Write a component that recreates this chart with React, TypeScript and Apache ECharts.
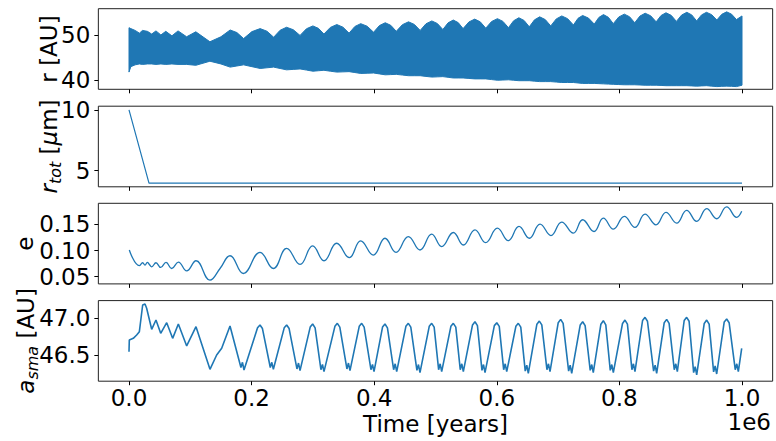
import React, { useEffect, useRef } from "react";
import * as echarts from "echarts";

// time in units of 1e6 years
const TIME_R = [0.0, 0.003, 0.010, 0.017, 0.022, 0.030, 0.037, 0.044, 0.052, 0.060, 0.070, 0.080, 0.094, 0.109, 0.132, 0.150, 0.165, 0.176, 0.187, 0.2005, 0.214, 0.225, 0.236, 0.2465, 0.257, 0.268, 0.279, 0.2895, 0.300, 0.309, 0.318, 0.3285, 0.339, 0.349, 0.359, 0.3685, 0.378, 0.3885, 0.399, 0.4085, 0.418, 0.427, 0.436, 0.446, 0.456, 0.4655, 0.475, 0.4845, 0.494, 0.503, 0.512, 0.5205, 0.529, 0.537, 0.545, 0.5545, 0.564, 0.573, 0.582, 0.5915, 0.601, 0.610, 0.619, 0.6275, 0.636, 0.6445, 0.653, 0.6615, 0.670, 0.679, 0.688, 0.697, 0.706, 0.7155, 0.725, 0.7325, 0.740, 0.7495, 0.759, 0.7665, 0.774, 0.782, 0.790, 0.799, 0.808, 0.8165, 0.825, 0.8335, 0.842, 0.851, 0.860, 0.868, 0.876, 0.8845, 0.893, 0.9015, 0.910, 0.918, 0.926, 0.934, 0.942, 0.9505, 0.959, 0.967, 0.975, 0.983, 0.991, 1.000];
const R_MAX = [51.6, 51.4, 51.0, 50.4, 51.0, 50.8, 50.2, 50.9, 50.0, 50.8, 49.8, 50.9, 49.6, 50.7, 48.5, 49.6, 51.1, 50.53, 49.2, 50.74, 51.4, 50.83, 49.5, 51.04, 51.7, 51.16, 49.9, 51.37, 52.0, 51.46, 50.2, 51.67, 52.3, 51.73, 50.4, 51.87, 52.5, 51.93, 50.6, 52.07, 52.7, 52.13, 50.8, 52.27, 52.9, 52.33, 51.0, 52.47, 53.1, 52.53, 51.2, 52.67, 53.3, 52.73, 51.4, 52.87, 53.5, 52.9, 51.5, 52.97, 53.6, 53.0, 51.6, 53.14, 53.8, 53.2, 51.8, 53.34, 54.0, 53.4, 52.0, 53.54, 54.2, 53.6, 52.2, 53.67, 54.3, 53.73, 52.4, 53.87, 54.5, 53.9, 52.5, 53.97, 54.6, 54.03, 52.7, 54.17, 54.8, 54.23, 52.9, 54.3, 54.9, 54.33, 53.0, 54.4, 55.0, 54.43, 53.1, 54.43, 55.0, 54.49, 53.3, 54.56, 55.1, 54.59, 53.4, 54.2];
const R_MIN = [41.8, 43.0, 43.4, 43.6, 43.5, 43.6, 43.6, 43.5, 43.6, 43.5, 43.6, 43.5, 43.5, 43.3, 44.2, 43.6, 42.9, 43.15, 43.4, 43.0, 42.6, 42.75, 42.9, 42.6, 42.3, 42.4, 42.5, 42.25, 42.0, 42.1, 42.2, 42.0, 41.8, 41.85, 41.9, 41.7, 41.5, 41.55, 41.6, 41.4, 41.2, 41.25, 41.3, 41.15, 41.0, 41.0, 41.0, 40.85, 40.7, 40.75, 40.8, 40.65, 40.5, 40.5, 40.5, 40.4, 40.3, 40.3, 40.3, 40.15, 40.0, 40.05, 40.1, 40.0, 39.9, 39.9, 39.9, 39.8, 39.7, 39.7, 39.7, 39.6, 39.5, 39.5, 39.5, 39.4, 39.3, 39.3, 39.3, 39.25, 39.2, 39.15, 39.1, 39.05, 39.0, 39.0, 39.0, 38.95, 38.9, 38.9, 38.9, 38.85, 38.8, 38.8, 38.8, 38.8, 38.8, 38.75, 38.7, 38.75, 38.8, 38.7, 38.6, 38.65, 38.7, 38.65, 38.6, 38.9];

const TIME_RTOT = [0.0, 0.0326, 1.0];
const R_TOT = [10.0, 3.97, 3.97];

const TIME_E = [0.0005, 0.0169, 0.0223, 0.0261, 0.0299, 0.0332, 0.0370, 0.0440, 0.0517, 0.0604, 0.0696, 0.0805, 0.0941, 0.1093, 0.1321, 0.1485, 0.1648, 0.1865, 0.2137, 0.2355, 0.2572, 0.2790, 0.2996, 0.3181, 0.3388, 0.3594, 0.3779, 0.3986, 0.4176, 0.4356, 0.4557, 0.4747, 0.4938, 0.5101, 0.5291, 0.5454, 0.5644, 0.5818, 0.6009, 0.6188, 0.6362, 0.6531, 0.6705, 0.6884, 0.7058, 0.7248, 0.7401, 0.7586, 0.7738, 0.7901, 0.8080, 0.8254, 0.8418, 0.8597, 0.8760, 0.8934, 0.9097, 0.9261, 0.9424, 0.9587, 0.9750, 0.9913, 0.9995];
const ECC = [0.101, 0.071, 0.0765, 0.072, 0.0771, 0.0733, 0.0688, 0.0765, 0.0675, 0.0771, 0.0655, 0.0778, 0.0610, 0.0804, 0.0432, 0.0655, 0.0900, 0.0559, 0.0965, 0.0655, 0.1042, 0.0733, 0.1087, 0.0804, 0.1139, 0.0862, 0.1184, 0.0913, 0.1235, 0.0965, 0.1268, 0.1010, 0.1313, 0.1074, 0.1345, 0.1106, 0.1396, 0.1152, 0.1429, 0.1190, 0.1461, 0.1235, 0.1506, 0.1287, 0.1545, 0.1332, 0.1590, 0.1364, 0.1622, 0.1409, 0.1654, 0.1442, 0.1699, 0.1493, 0.1731, 0.1525, 0.1770, 0.1558, 0.1802, 0.1609, 0.1835, 0.1635, 0.1751];

const TIME_A = [0.0000, 0.0005, 0.0070, 0.0125, 0.0169, 0.0223, 0.0261, 0.0288, 0.0370, 0.0440, 0.0517, 0.0615, 0.0712, 0.0805, 0.0941, 0.1093, 0.1321, 0.1430, 0.1512, 0.1648,
  0.1826, 0.1851, 0.1876, 0.2097, 0.2137, 0.2177,
  0.2305, 0.2330, 0.2355, 0.2532, 0.2572, 0.2612,
  0.2740, 0.2765, 0.2790, 0.2956, 0.2996, 0.3036,
  0.3131, 0.3156, 0.3181, 0.3359, 0.3399, 0.3439,
  0.3555, 0.3580, 0.3605, 0.3756, 0.3796, 0.3836,
  0.3947, 0.3972, 0.3997, 0.4136, 0.4176, 0.4216,
  0.4317, 0.4342, 0.4367, 0.4517, 0.4557, 0.4597,
  0.4697, 0.4722, 0.4747, 0.4898, 0.4938, 0.4978,
  0.5051, 0.5076, 0.5101, 0.5251, 0.5291, 0.5331,
  0.5404, 0.5429, 0.5454, 0.5604, 0.5644, 0.5684,
  0.5758, 0.5783, 0.5808, 0.5960, 0.6000, 0.6040,
  0.6112, 0.6137, 0.6162, 0.6311, 0.6351, 0.6391,
  0.6464, 0.6489, 0.6514, 0.6654, 0.6694, 0.6734,
  0.6818, 0.6843, 0.6868, 0.7002, 0.7042, 0.7082,
  0.7172, 0.7197, 0.7222, 0.7361, 0.7401, 0.7441,
  0.7524, 0.7549, 0.7574, 0.7698, 0.7738, 0.7778,
  0.7851, 0.7876, 0.7901, 0.8051, 0.8091, 0.8131,
  0.8204, 0.8229, 0.8254, 0.8378, 0.8418, 0.8458,
  0.8558, 0.8583, 0.8608, 0.8731, 0.8771, 0.8811,
  0.8895, 0.8920, 0.8945, 0.9057, 0.9097, 0.9137,
  0.9211, 0.9236, 0.9261, 0.9384, 0.9424, 0.9464,
  0.9537, 0.9562, 0.9587, 0.9710, 0.9750, 0.9790,
  0.9890, 0.9915, 0.9940, 0.9995];
const ASMA = [46.545, 46.704, 46.727, 46.772, 46.818, 47.181, 47.195, 47.136, 46.850, 46.977, 46.795, 46.940, 46.727, 46.922, 46.623, 46.886, 46.305, 46.500, 46.591, 46.895,
  46.33, 46.40, 46.296, 46.87, 46.909, 46.86,
  46.33, 46.40, 46.305, 46.87, 46.909, 46.86,
  46.31, 46.39, 46.287, 46.88, 46.922, 46.87,
  46.30, 46.37, 46.273, 46.89, 46.931, 46.88,
  46.31, 46.39, 46.287, 46.89, 46.931, 46.88,
  46.30, 46.37, 46.273, 46.88, 46.922, 46.87,
  46.30, 46.38, 46.273, 46.89, 46.931, 46.88,
  46.29, 46.37, 46.259, 46.89, 46.931, 46.88,
  46.30, 46.38, 46.273, 46.89, 46.931, 46.88,
  46.30, 46.38, 46.273, 46.91, 46.953, 46.90,
  46.29, 46.37, 46.259, 46.90, 46.940, 46.89,
  46.30, 46.38, 46.273, 46.89, 46.931, 46.88,
  46.28, 46.36, 46.251, 46.92, 46.962, 46.91,
  46.30, 46.38, 46.273, 46.94, 46.985, 46.93,
  46.28, 46.36, 46.251, 46.91, 46.953, 46.90,
  46.29, 46.37, 46.259, 46.92, 46.967, 46.91,
  46.29, 46.37, 46.259, 46.93, 46.976, 46.92,
  46.30, 46.38, 46.273, 46.97, 47.013, 46.96,
  46.28, 46.36, 46.251, 46.94, 46.985, 46.93,
  46.30, 46.38, 46.273, 46.97, 47.013, 46.96,
  46.26, 46.34, 46.228, 46.93, 46.976, 46.92,
  46.27, 46.35, 46.241, 46.95, 46.990, 46.94,
  46.30, 46.38, 46.273, 46.591];

const X_TICKS = [0, 0.2, 0.4, 0.6, 0.8, 1.0];
const Y_TICKS = [[40, 50], [5, 10], [0.05, 0.1, 0.15], [46.5, 47.0]];
const Y_DECIMALS = [0, 0, 2, 1];
const Y_RANGES = [[38.0, 55.8], [3.67, 10.3], [0.036, 0.1905], [46.143, 47.241]];
const Y_NAMES = ["r [AU]", "{i|r}{s|tot} [{i|μ}m]", "e", "{i|a}{s|sma} [AU]"];
const X_NAME = "Time [years]";
const X_OFFSET = "1e6";

const FONT = "DejaVu Sans";
const BLUE = "#1f77b4";
const FS = 23;

const zip = (xs: number[], ys: number[]) => xs.map((x, i) => [x, ys[i]]);

export default function App() {
  const ref = useRef<HTMLDivElement>(null);
  useEffect(() => {
    if (!ref.current) return;
    const chart = echarts.init(ref.current, null, { renderer: "svg" });
    const tops = [8.7, 106.2, 203.3, 300.6];
    const H = 80.6;
    const grid = tops.map((t) => ({
      left: 98.35,
      right: 3.35,
      top: t,
      height: H,
      show: true,
      borderColor: "#222",
      borderWidth: 1,
      backgroundColor: "transparent",
    }));
    const xAxis = tops.map((_, i) => ({
      type: "value",
      gridIndex: i,
      min: -0.05,
      max: 1.05,
      axisLine: { show: false, onZero: false },
      splitLine: { show: false },
      axisTick: { show: true, length: 4, lineStyle: { color: "#000", width: 1 }, customValues: X_TICKS },
      axisLabel: {
        show: i === 3,
        customValues: X_TICKS,
        formatter: (v: number) => v.toFixed(1),
        fontFamily: FONT,
        fontSize: FS,
        lineHeight: 20,
        color: "#000",
        margin: 7,
      },
    }));
    const yAxis = tops.map((_, i) => ({
      type: "value",
      gridIndex: i,
      min: Y_RANGES[i][0],
      max: Y_RANGES[i][1],
      axisLine: { show: false, onZero: false },
      splitLine: { show: false },
      axisTick: { show: true, length: 4, lineStyle: { color: "#000", width: 1 }, customValues: Y_TICKS[i] },
      axisLabel: {
        customValues: Y_TICKS[i],
        formatter: (v: number) => v.toFixed(Y_DECIMALS[i]),
        fontFamily: FONT,
        fontSize: FS,
        color: "#000",
        margin: 8,
      },
    }));
    const nameX = [49, 49, 24.5, 26];
    const rich = {
      i: { fontFamily: FONT, fontSize: FS, fontStyle: "italic", fill: "#000", lineHeight: 28 },
      s: { fontFamily: FONT, fontSize: 16, fontStyle: "italic", fill: "#000", lineHeight: 16, verticalAlign: "bottom" },
    };
    const yNames = Y_NAMES.map((txt, i) => ({
      type: "text",
      x: nameX[i],
      y: tops[i] + H / 2,
      rotation: Math.PI / 2,
      silent: true,
      style: {
        text: txt,
        fontFamily: FONT,
        fontSize: FS,
        fill: "#000",
        lineHeight: 28,
        align: "center",
        verticalAlign: "middle",
        rich,
      },
    }));
    const base = { type: "line", symbol: "none", silent: true };
    const option = {
      animation: false,
      grid,
      xAxis,
      yAxis,
      series: [
        {
          type: "custom",
          xAxisIndex: 0,
          yAxisIndex: 0,
          silent: true,
          data: [[TIME_R[0], R_MIN[0]]],
          renderItem: (_p: any, api: any) => {
            const upper = TIME_R.map((t, i) => api.coord([t, R_MAX[i]]));
            const lower = TIME_R.map((t, i) => api.coord([t, R_MIN[i]])).reverse();
            return {
              type: "polygon",
              shape: { points: upper.concat(lower) },
              style: { fill: BLUE, stroke: BLUE, lineWidth: 1 },
            };
          },
        },
        {
          ...base,
          xAxisIndex: 1,
          yAxisIndex: 1,
          data: zip(TIME_RTOT, R_TOT),
          lineStyle: { color: BLUE, width: 1.2 },
        },
        {
          ...base,
          xAxisIndex: 2,
          yAxisIndex: 2,
          data: zip(TIME_E, ECC),
          smooth: 0.45,
          lineStyle: { color: BLUE, width: 1.3 },
        },
        {
          ...base,
          xAxisIndex: 3,
          yAxisIndex: 3,
          data: zip(TIME_A, ASMA),
          lineStyle: { color: BLUE, width: 1.6 },
        },
      ],
      graphic: [
        ...yNames,
        {
          type: "text",
          x: 435.5,
          y: 424,
          silent: true,
          style: {
            text: X_NAME,
            fontFamily: FONT,
            fontSize: FS,
            lineHeight: 24,
            fill: "#000",
            align: "center",
            verticalAlign: "middle",
          },
        },
        {
          type: "text",
          x: 771,
          y: 422,
          silent: true,
          style: {
            text: X_OFFSET,
            fontFamily: FONT,
            fontSize: FS,
            lineHeight: 20,
            fill: "#000",
            align: "right",
            verticalAlign: "middle",
          },
        },
      ],
    };
    chart.setOption(option as any);
    return () => chart.dispose();
  }, []);
  return <div ref={ref} style={{ position: "fixed", left: 0, top: 0, width: 776, height: 441, background: "#fff" }} />;
}
